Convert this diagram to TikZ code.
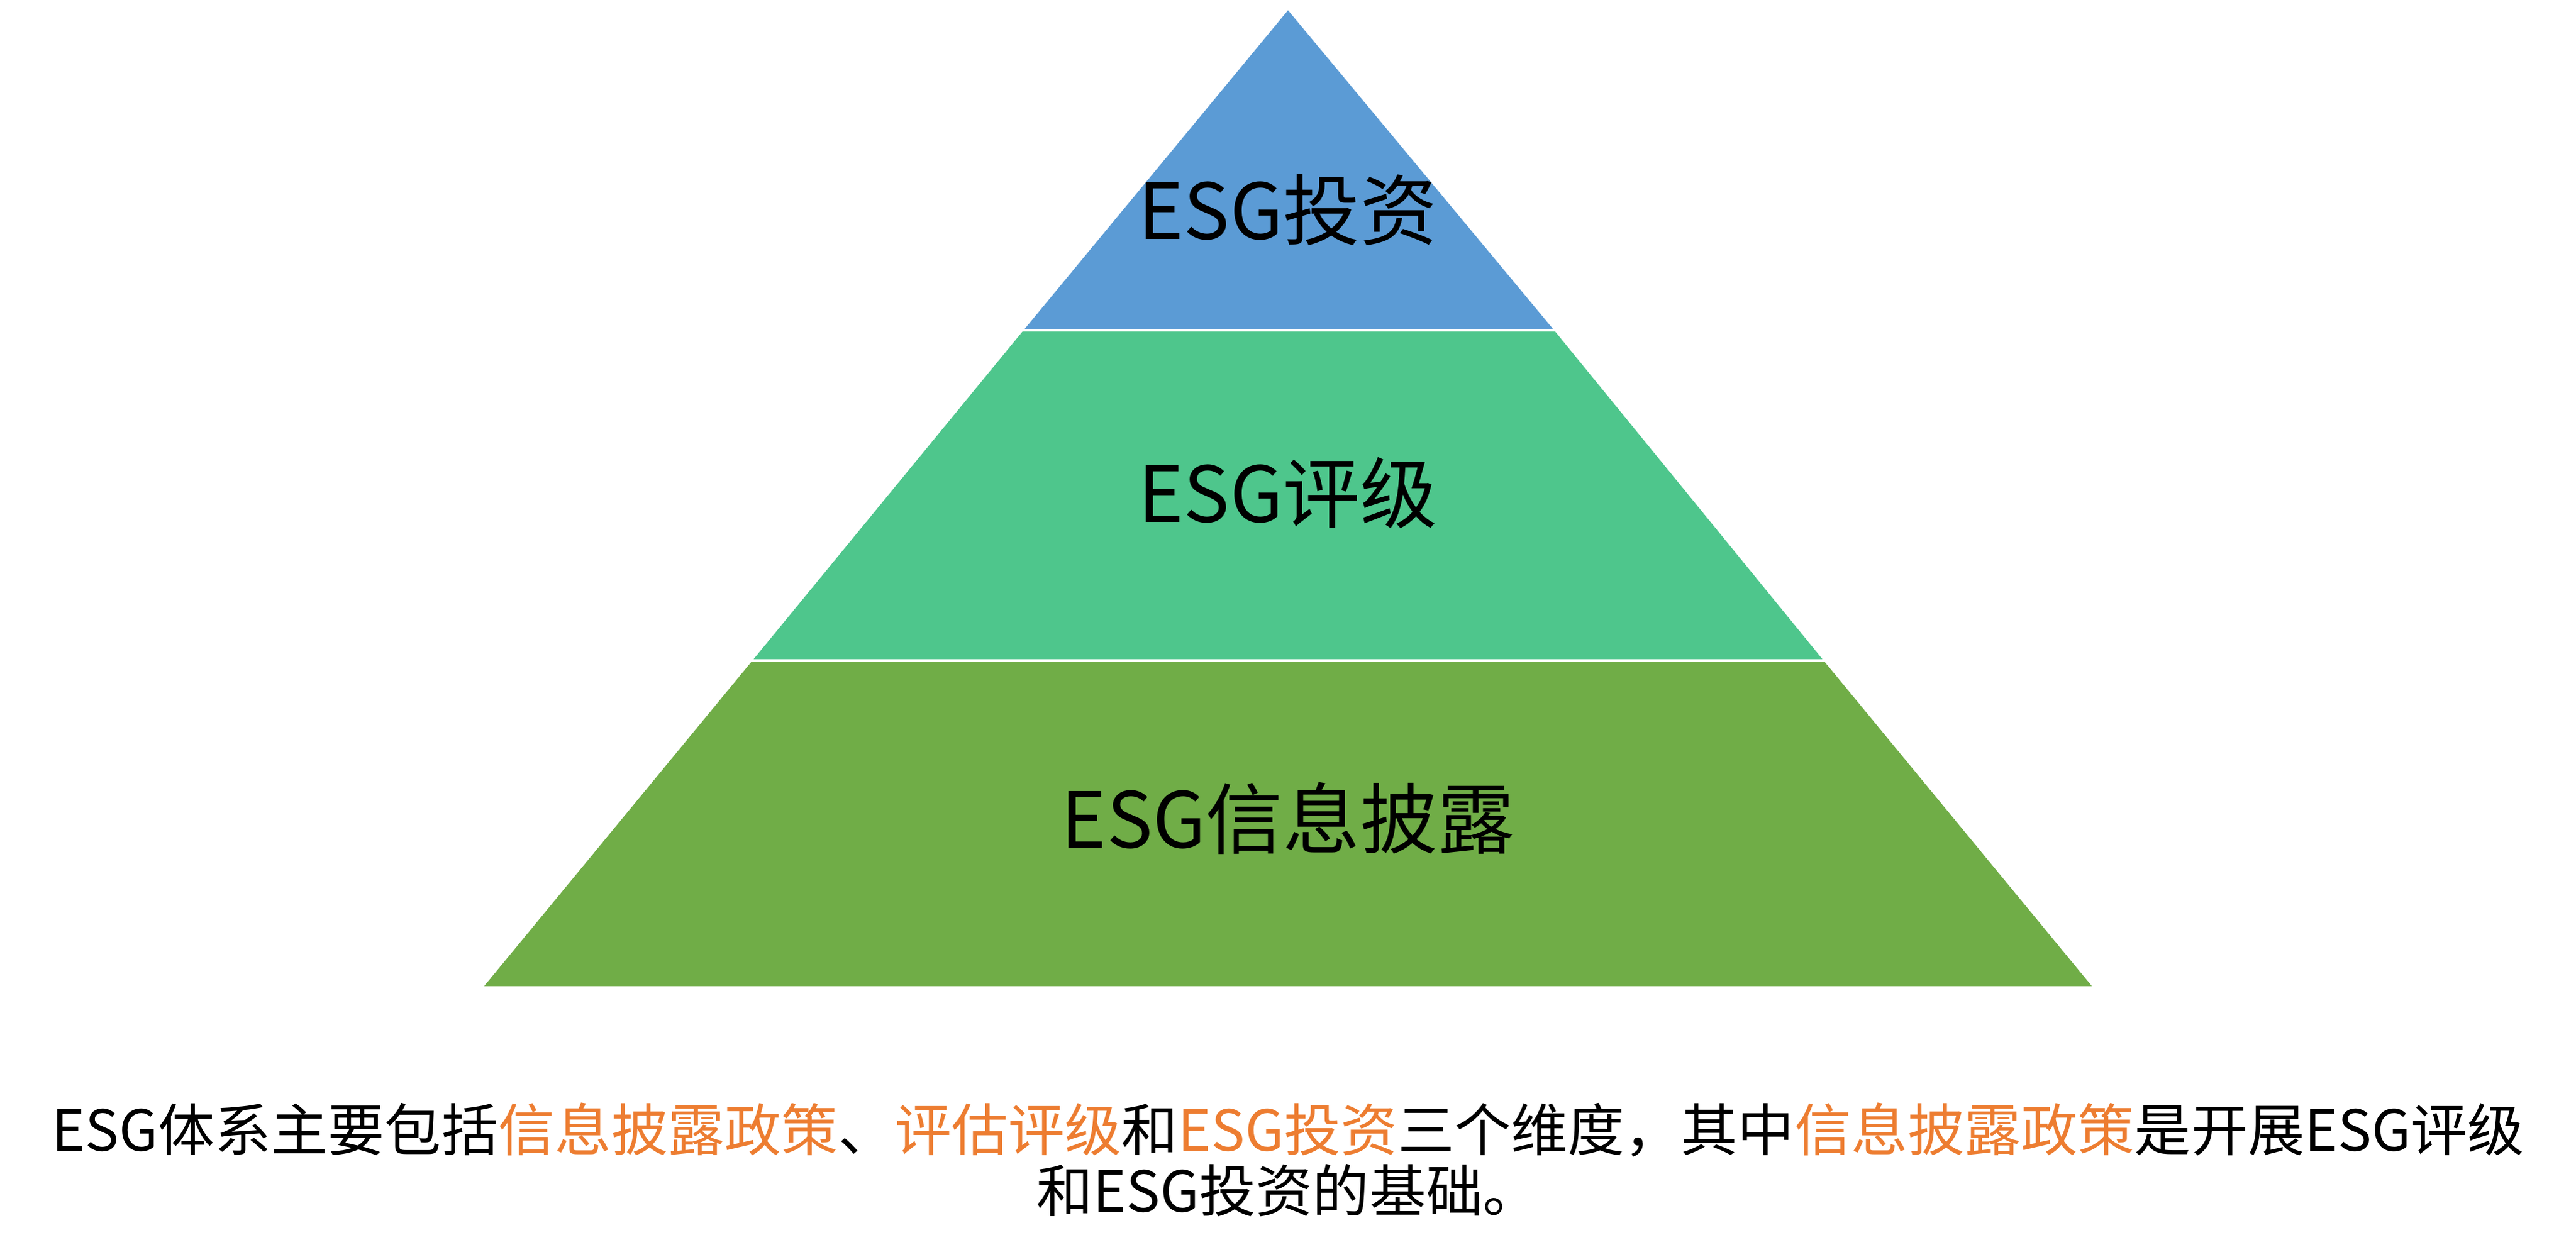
\documentclass[tikz,border=0pt]{standalone}
\usepackage{fontspec}
\setmainfont{Noto Sans CJK SC}
\usepackage{xcolor}
\definecolor{topblue}{HTML}{5B9BD5}
\definecolor{midgreen}{HTML}{4EC68C}
\definecolor{lowgreen}{HTML}{70AD47}
\definecolor{hilite}{HTML}{ED7D31}
\newcommand{\hl}[1]{\textcolor{hilite}{#1}}

\begin{document}
\begin{tikzpicture}[x=1pt,y=-1pt]
        \tikzstyle{layer}=[draw=white,line width=1.5pt]
        \tikzstyle{lbl}=[font=\fontsize{47}{52}\selectfont,inner sep=0pt]
        \useasboundingbox (0,0) rectangle (1568,765);
        \fill [white] (0,0) rectangle (1568,765);
        % layers
        \draw [layer,fill=lowgreen] (457,402) -- (1111,402) -- (1275,601) -- (293,601) -- cycle;
        \draw [layer,fill=midgreen] (622,201) -- (947,201) -- (1111,402) -- (457,402) -- cycle;
        \draw [layer,fill=topblue] (784,5) -- (947,201) -- (622,201) -- cycle;
        % labels
        \node [lbl] (invest) at (784,128) {ESG投资};
        \node [lbl] (rating) at (784,300) {ESG评级};
        \node [lbl] (disclose) at (784,498) {ESG信息披露};
        % caption
        \node [align=center,inner sep=0pt,font=\fontsize{34.5}{37}\selectfont] (caption) at (784,706)
          {ESG体系主要包括\hl{信息披露政策}、\hl{评估评级}和\hl{ESG投资}三个维度，其中\hl{信息披露政策}是开展ESG评级\\和ESG投资的基础。};
\end{tikzpicture}
\end{document}
